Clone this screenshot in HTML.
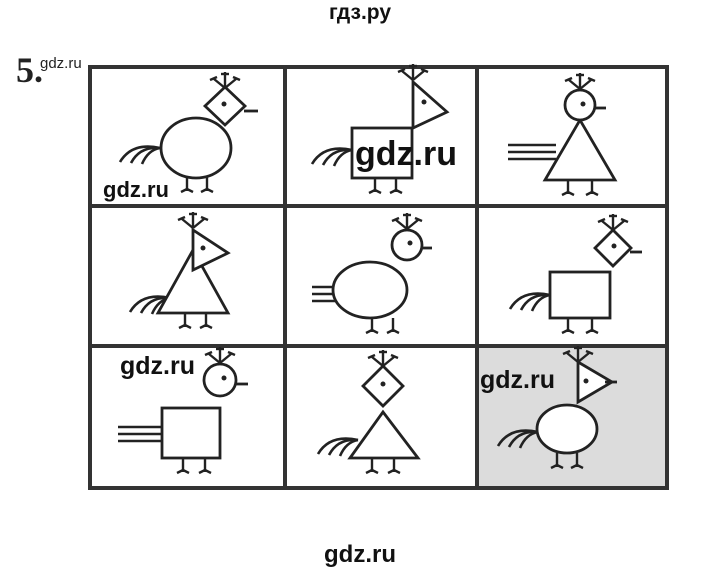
<!DOCTYPE html>
<html><head><meta charset="utf-8"><style>
html,body{margin:0;padding:0;background:#fff;}
svg{display:block}
.wm{font-family:"Liberation Sans",sans-serif;font-weight:bold;fill:#111}
</style></head><body>
<svg width="720" height="571" viewBox="0 0 720 571" xmlns="http://www.w3.org/2000/svg">
<defs>
<g id="crest" stroke="#222" stroke-width="2.4" fill="none">
<line x1="0" y1="0" x2="0" y2="-16"/><line x1="0" y1="0" x2="-11" y2="-9"/><line x1="0" y1="0" x2="11" y2="-9"/>
<line x1="-4" y1="-14" x2="4" y2="-14"/><line x1="-15" y1="-8" x2="-8" y2="-11"/><line x1="15" y1="-8" x2="8" y2="-11"/>
</g>
<g id="leg" stroke="#222" stroke-width="2.4" fill="none">
<line x1="0" y1="0" x2="0" y2="14"/><line x1="0" y1="12" x2="-6" y2="15"/><line x1="0" y1="12" x2="6" y2="15"/>
</g>
<g id="ctail" stroke="#222" stroke-width="2.6" fill="none">
<path d="M0,0 Q-28,-6 -40,14"/><path d="M0,0 Q-20,-2 -29,15"/><path d="M0,0 Q-12,2 -18,16"/>
</g>
<g id="ltail" stroke="#222" stroke-width="2.4" fill="none">
<line x1="0" y1="0" x2="48" y2="0"/><line x1="0" y1="7" x2="48" y2="7"/><line x1="0" y1="14" x2="48" y2="14"/>
</g>
</defs>
<rect x="477" y="345" width="190" height="143" fill="#dcdcdc"/>
<g stroke="#333" stroke-width="4" fill="none">
<rect x="90" y="67" width="577" height="421"/>
<line x1="285" y1="67" x2="285" y2="488"/><line x1="477" y1="67" x2="477" y2="488"/>
<line x1="90" y1="206" x2="667" y2="206"/><line x1="90" y1="346" x2="667" y2="346"/>
</g>
<g stroke="#222" stroke-width="2.8" fill="#fff">
<use href="#ctail" x="160" y="148"/>
<ellipse cx="196" cy="148" rx="35" ry="30"/>
<polygon points="225,87 245,106 225,125 205,106"/>
<line x1="244" y1="111" x2="258" y2="111"/>
<use href="#crest" x="225" y="88"/>
<use href="#leg" x="187" y="177"/><use href="#leg" x="207" y="177"/>
<use href="#ctail" x="352" y="150"/>
<rect x="352" y="128" width="60" height="50"/>
<polygon points="413,82 413,128 447,112"/>
<use href="#crest" x="413" y="80"/>
<use href="#leg" x="375" y="178"/><use href="#leg" x="396" y="178"/>
<use href="#ltail" x="508" y="145"/>
<polygon points="580,120 545,180 615,180"/>
<circle cx="580" cy="105" r="15"/>
<line x1="595" y1="108" x2="606" y2="108"/>
<use href="#crest" x="580" y="89"/>
<use href="#leg" x="568" y="180"/><use href="#leg" x="592" y="180"/>
<use href="#ctail" x="170" y="298"/>
<polygon points="193,250 158,313 228,313"/>
<polygon points="193,230 193,270 228,253"/>
<use href="#crest" x="193" y="228"/>
<use href="#leg" x="185" y="313"/><use href="#leg" x="206" y="313"/>
<use href="#ltail" x="312" y="287"/>
<ellipse cx="370" cy="290" rx="37" ry="28"/>
<circle cx="407" cy="245" r="15"/>
<line x1="422" y1="248" x2="432" y2="248"/>
<use href="#crest" x="407" y="229"/>
<use href="#leg" x="372" y="318"/><use href="#leg" x="393" y="318"/>
<use href="#ctail" x="550" y="295"/>
<rect x="550" y="272" width="60" height="46"/>
<polygon points="613,230 631,248 613,266 595,248"/>
<line x1="630" y1="252" x2="642" y2="252"/>
<use href="#crest" x="613" y="230"/>
<use href="#leg" x="568" y="318"/><use href="#leg" x="592" y="318"/>
<use href="#ltail" x="118" y="427"/>
<rect x="162" y="408" width="58" height="50"/>
<circle cx="220" cy="380" r="16"/>
<line x1="236" y1="384" x2="248" y2="384"/>
<use href="#crest" x="220" y="363"/>
<use href="#leg" x="183" y="458"/><use href="#leg" x="205" y="458"/>
<use href="#ctail" x="358" y="440"/>
<polygon points="383,412 350,458 418,458"/>
<polygon points="383,366 403,386 383,406 363,386"/>
<use href="#crest" x="383" y="366"/>
<use href="#leg" x="372" y="458"/><use href="#leg" x="394" y="458"/>
<use href="#ctail" x="538" y="432"/>
<ellipse cx="567" cy="429" rx="30" ry="24"/>
<polygon points="578,362 578,402 612,382"/>
<line x1="605" y1="382" x2="617" y2="382"/>
<use href="#crest" x="578" y="362"/>
<use href="#leg" x="557" y="453"/><use href="#leg" x="577" y="453"/>
</g>
<g fill="#222">
<circle cx="224" cy="104" r="2.5"/><circle cx="424" cy="102" r="2.5"/><circle cx="583" cy="104" r="2.5"/>
<circle cx="203" cy="248" r="2.5"/><circle cx="410" cy="243" r="2.5"/><circle cx="614" cy="246" r="2.5"/>
<circle cx="224" cy="378" r="2.5"/><circle cx="383" cy="384" r="2.5"/><circle cx="586" cy="381" r="2.5"/>
</g>
<text x="360" y="19" text-anchor="middle" class="wm" font-size="21">гдз.ру</text>
<text x="16" y="82" font-family="Liberation Serif,serif" font-weight="bold" font-size="36" fill="#222">5.</text>
<text x="40" y="68" font-family="Liberation Sans,sans-serif" font-size="15" fill="#222">gdz.ru</text>
<text x="355" y="165" class="wm" font-size="34">gdz.ru</text>
<text x="103" y="197" class="wm" font-size="22">gdz.ru</text>
<text x="120" y="374" class="wm" font-size="25">gdz.ru</text>
<text x="480" y="388" class="wm" font-size="25">gdz.ru</text>
<text x="360" y="562" text-anchor="middle" class="wm" font-size="24">gdz.ru</text>
</svg>
</body></html>
